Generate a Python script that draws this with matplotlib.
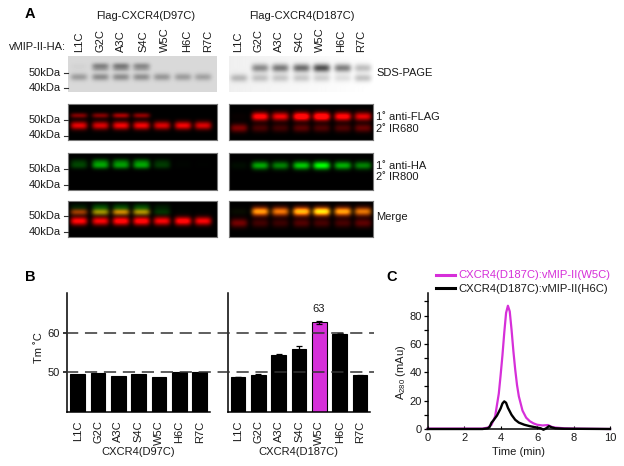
import numpy as np
import matplotlib
matplotlib.use("Agg")
import matplotlib.pyplot as plt
from matplotlib.lines import Line2D
from matplotlib.transforms import blended_transform_factory

plt.rcParams['font.family'] = ['Liberation Sans', 'DejaVu Sans']
plt.rcParams['mathtext.fontset'] = 'custom'
plt.rcParams['mathtext.rm'] = 'Liberation Sans'
plt.rcParams['mathtext.default'] = 'regular'
plt.rcParams['font.size'] = 8

W, H = 624, 466
TEXT = '#1a1a1a'
MAGENTA = '#d62fd9'

lanes = ["L1C", "G2C", "A3C", "S4C", "W5C", "H6C", "R7C"]

# band strengths read from the gels, one value per lane
sds_d97_upper = [0.02, 0.33, 0.36, 0.30, 0.0, 0.0, 0.0]
sds_d97_lower = [0.23, 0.29, 0.29, 0.28, 0.25, 0.23, 0.21]
sds_d187_upper = [0.0, 0.40, 0.47, 0.53, 0.65, 0.47, 0.24]
sds_d187_lower = [0.22, 0.19, 0.18, 0.18, 0.16, 0.11, 0.22]

red_d97_upper = [0.50, 0.50, 0.65, 0.55, 0.0, 0.0, 0.0]
red_d97_lower = [0.90, 0.85, 0.95, 0.95, 0.85, 0.95, 0.85]
red_d187_upper = [0.03, 1.10, 0.95, 1.25, 1.30, 1.10, 0.90]
red_d187_lower = [0.50, 0.28, 0.25, 0.35, 0.30, 0.30, 0.40]

green_d97 = [0.30, 0.72, 0.68, 0.72, 0.25, 0.02, 0.01]
green_d187 = [0.05, 0.65, 0.50, 0.78, 1.0, 0.68, 0.50]

# Tm values and error bars
tm_d97 = [49.5, 49.8, 49.2, 49.6, 48.7, 50.2, 50.0]
tm_d187 = [48.8, 49.3, 54.3, 56.0, 62.6, 59.7, 49.3]
err_d187 = [0.1, 0.3, 0.2, 0.6, 0.4, 0.1, 0.1]

# chromatography traces
t_w5c = [0, 3, 3.3, 3.5, 3.7, 3.9, 4.0, 4.1, 4.2, 4.3, 4.4, 4.5, 4.6, 4.7, 4.8, 4.9, 5.0,
         5.2, 5.4, 5.6, 5.8, 6.0, 6.3, 6.6, 6.8, 7.0, 7.5, 8.0, 10]
a_w5c = [0.3, 0.3, 1, 3, 9, 25, 38, 52, 68, 82, 87, 83, 70, 55, 42, 31, 23,
         13, 8, 5.5, 4, 3, 2.5, 2.8, 1.5, 1, 0.5, 0.3, 0]
t_h6c = [0, 3, 3.3, 3.4, 3.5, 3.6, 3.8, 4.0, 4.1, 4.2, 4.3, 4.4, 4.6, 4.8, 5.0,
         5.3, 5.6, 6.0, 6.2, 6.35, 6.5, 6.65, 6.8, 7.0, 7.5, 10]
a_h6c = [0, 0, 0.5, 1.5, 4.5, 6, 9.5, 14.5, 18, 19.5, 18.5, 15, 10, 6.5, 4.5,
         3, 2, 1, 0.5, -0.5, 0.5, 2, 1.2, 0.5, 0.2, 0]


fig = plt.figure(figsize=(W / 100, H / 100), dpi=100)


def px_axes(left, top, right, bottom):
    return fig.add_axes([left / W, 1 - bottom / H, (right - left) / W, (bottom - top) / H])


def px_text(x, y, s, **kw):
    kw.setdefault('color', TEXT)
    kw.setdefault('va', 'center')
    fig.text(x / W, 1 - y / H, s, **kw)


def band_layer(box, centres, y_pos, values, sigma=2.8, half=8.5):
    # one row of bands, soft edged, on a 1 px grid
    left, top, right, bottom = box
    xx, yy = np.meshgrid(np.arange(left, right) + 0.5, np.arange(top, bottom) + 0.5)
    out = np.zeros_like(xx)
    for c, v in zip(centres, values):
        out += v * np.exp(-((xx - c) / half) ** 4) * np.exp(-((yy - top - y_pos) / sigma) ** 2 / 2)
    return out


def show_blot(box, img, frame=True):
    ax = px_axes(*box)
    ax.imshow(np.clip(img, 0, 1), aspect='auto', interpolation='bilinear', vmin=0, vmax=1,
              cmap='gray' if img.ndim == 2 else None)
    ax.set_xticks([])
    ax.set_yticks([])
    for s in ax.spines.values():
        s.set_visible(frame)
        s.set_color('#777777')
        s.set_linewidth(0.8)
    return ax


def red_green(red, green):
    return np.dstack([red, green + 0.10 * np.clip(red - 0.8, 0, 1), 0.08 * np.clip(red - 0.7, 0, 1)])


x_d97 = [79, 100.5, 121, 141.5, 162, 183, 203]
x_d187 = [239, 260, 280, 301, 321, 342, 362]

# SDS-PAGE row
box = (68, 56, 217, 92)
img = 0.85 - band_layer(box, x_d97, 10, sds_d97_upper, sigma=2.2) - band_layer(box, x_d97, 13.5, sds_d97_upper, sigma=1.6) * 0.4 \
    - band_layer(box, x_d97, 21, sds_d97_lower, sigma=2.6)
show_blot(box, img, frame=False)
box = (229, 56, 373, 92)
img = 0.94 - band_layer(box, x_d187, 12, sds_d187_upper, sigma=3.0) - band_layer(box, x_d187, 22, sds_d187_lower, sigma=2.8)
img = img + np.linspace(0, 0.06, box[2] - box[0])
show_blot(box, img, frame=False)

# anti-FLAG row
box = (68, 104, 217, 140)
img = band_layer(box, x_d97, 11.5, red_d97_upper, sigma=1.9) + band_layer(box, x_d97, 21.5, red_d97_lower, sigma=2.9)
show_blot(box, red_green(img, np.zeros_like(img)))
box = (229, 104, 373, 140)
img = band_layer(box, x_d187, 12.5, red_d187_upper, sigma=3.0) + band_layer(box, x_d187, 24, red_d187_lower, sigma=3.0)
show_blot(box, red_green(img, np.zeros_like(img)))

# anti-HA row
box = (68, 153, 217, 190)
img = band_layer(box, x_d97, 8.5, green_d97, sigma=2.2) * 0.45 + band_layer(box, x_d97, 12.5, green_d97, sigma=2.4) * 0.8
show_blot(box, red_green(np.zeros_like(img), img))
box = (229, 153, 373, 190)
img = band_layer(box, x_d187, 12.5, green_d187, sigma=2.8)
show_blot(box, red_green(np.zeros_like(img), img))

# Merge row
box = (68, 201, 217, 237)
red = band_layer(box, x_d97, 11, red_d97_upper, sigma=2.2) * 1.2 + band_layer(box, x_d97, 20, red_d97_lower, sigma=3.0) * 1.15
green = band_layer(box, x_d97, 6, green_d97, sigma=2.4) * 0.35 + band_layer(box, x_d97, 11, green_d97, sigma=2.4) * 0.75
show_blot(box, red_green(red, green))
box = (229, 201, 373, 237)
red = band_layer(box, x_d187, 10.5, red_d187_upper, sigma=3.2) + band_layer(box, x_d187, 22, red_d187_lower, sigma=3.2) * 0.9
green = band_layer(box, x_d187, 10.5, green_d187, sigma=2.6) * 0.9
show_blot(box, red_green(red, green))

# lane labels and titles
for xs, ys in [([79, 100, 121, 143, 165, 187, 208], 52), ([238, 258, 279, 299, 320, 341, 361], 52)]:
    for x, name in zip(xs, lanes):
        px_text(x, ys, name, rotation=90, ha='center', va='bottom')
px_text(146, 16, "Flag-CXCR4(D97C)", ha='center')
px_text(302, 16, "Flag-CXCR4(D187C)", ha='center')
px_text(66, 47, "vMIP-II-HA:", ha='right')

# kDa marks left of the blots
for y50, y40 in [(72.5, 88), (120, 135.5), (169, 185), (216, 232)]:
    for y, lab in [(y50, "50kDa"), (y40, "40kDa")]:
        px_text(61, y, lab, ha='right')
        fig.add_artist(Line2D([64 / W, 68 / W], [1 - y / H, 1 - y / H], color='#333333', lw=0.8))

px_text(376, 73, "SDS-PAGE")
px_text(376, 117.5, "1˚ anti-FLAG")
px_text(376, 129.5, "2˚ IR680")
px_text(376, 166, "1˚ anti-HA")
px_text(376, 177.5, "2˚ IR800")
px_text(376, 217, "Merge")

px_text(30, 14, "A", fontsize=10.5, fontweight='bold', ha='center', color='black')
px_text(30, 277, "B", fontsize=10.5, fontweight='bold', ha='center', color='black')
px_text(392, 277, "C", fontsize=10.5, fontweight='bold', ha='center', color='black')


# panel B
def tm_axes(left, right, first, values, colors, errs=None):
    ax = px_axes(left, 293, right, 412)
    step = 20.33
    pos = np.arange(len(values))
    ax.bar(pos, values, width=0.72, color=colors, edgecolor='black', linewidth=0.8,
           yerr=errs, capsize=2.2, error_kw={'elinewidth': 0.9, 'capthick': 0.9, 'ecolor': 'black'})
    ax.set_xlim(-(first - left) / step, (right - first) / step)
    ax.set_ylim(40, 70)
    ax.set_xticks(pos)
    ax.set_xticklabels(lanes, rotation=90, color=TEXT)
    ax.tick_params(axis='x', length=0, pad=6)
    for s in ['top', 'right']:
        ax.spines[s].set_visible(False)
    for s in ['left', 'bottom']:
        ax.spines[s].set_linewidth(1.1)
    return ax


ax_d97 = tm_axes(67, 210, 77.7, tm_d97, 'black')
ax_d97.set_yticks([50, 60])
ax_d97.tick_params(axis='y', length=3, width=1.1, pad=2, labelcolor=TEXT)

ax_d187 = tm_axes(227.7, 370, 238, tm_d187, ['black', 'black', 'black', 'black', MAGENTA, 'black', 'black'], err_d187)
ax_d187.set_yticks([])

trans = blended_transform_factory(fig.transFigure, ax_d97.transData)
for level in [50, 60]:
    fig.add_artist(Line2D([66 / W, 374 / W], [level, level], transform=trans, color='#333333',
                          lw=1.1, dashes=(8, 4.4)))

px_text(39, 348, "Tm ˚C", rotation=90, ha='center')
px_text(138, 452, "CXCR4(D97C)", ha='center')
px_text(298, 452, "CXCR4(D187C)", ha='center')
px_text(319, 309, "63", ha='center')

# panel C
ax_c = px_axes(427.7, 292.7, 610, 429)
ax_c.plot(t_w5c, a_w5c, color=MAGENTA, lw=1.6, clip_on=False, label="CXCR4(D187C):vMIP-II(W5C)")
ax_c.plot(t_h6c, a_h6c, color='black', lw=1.7, clip_on=False, label="CXCR4(D187C):vMIP-II(H6C)")
ax_c.set_xlim(0, 10)
ax_c.set_ylim(0, 96.2)
ax_c.set_xticks([0, 2, 4, 6, 8, 10])
ax_c.set_yticks([0, 20, 40, 60, 80])
ax_c.set_yticks([10, 30, 50, 70, 90], minor=True)
ax_c.tick_params(axis='x', direction='in', length=2, width=0.8, pad=3, labelcolor=TEXT)
ax_c.tick_params(axis='y', which='both', length=3, width=0.9, pad=1, labelcolor=TEXT)
for s in ['top', 'right']:
    ax_c.spines[s].set_visible(False)
for s in ['left', 'bottom']:
    ax_c.spines[s].set_linewidth(1.1)

leg = ax_c.legend(loc='upper left', bbox_to_anchor=(436 / W, 1 - 270.5 / H), bbox_transform=fig.transFigure,
                  frameon=False, fontsize=8.1, handlelength=1.7, handletextpad=0.3, labelspacing=0.33,
                  borderpad=0, borderaxespad=0, labelcolor=[MAGENTA, TEXT])
for line in leg.get_lines():
    line.set_linewidth(2.2)

px_text(519, 452, "Time (min)", ha='center')
px_text(401, 372, "A$_{280}$ (mAu)", rotation=90, ha='center')

fig.savefig("out.png", dpi=100)
